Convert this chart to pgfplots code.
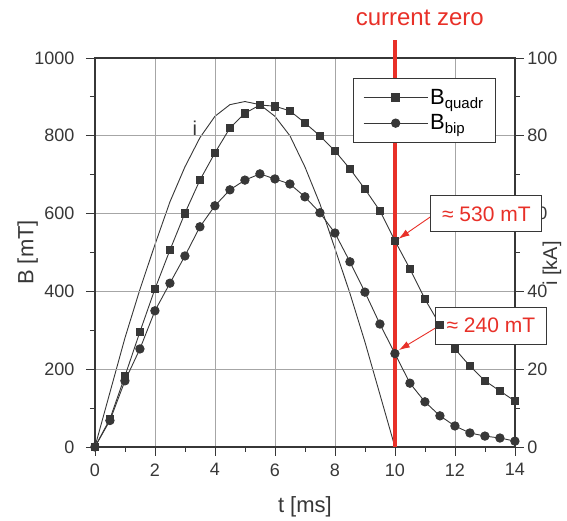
\documentclass[border=0pt]{standalone}
\usepackage{fontspec}
\setmainfont{Liberation Sans}
\usepackage{pgfplots}
\pgfplotsset{compat=1.18}
\usetikzlibrary{arrows.meta}
\definecolor{cred}{RGB}{232,48,40}
\definecolor{dk}{RGB}{55,55,55}

\begin{document}
\begin{tikzpicture}
\pgfplotsset{
  base/.style={
    scale only axis, width=420pt, height=389pt,
    xmin=0, xmax=14,
    tick align=outside,
    major tick length=9pt, minor tick length=5pt,
    every tick/.style={dk, line width=0.8pt},
    /pgf/number format/assume math mode=true,
    /pgf/number format/1000 sep={},
    tick label style={font=\fontsize{18}{18}\selectfont, text=dk},
    axis line style={dk, line width=1.2pt},
  }
}
% current axis (right)
\begin{axis}[base,
  axis x line=none, axis y line*=right,
  ymin=0, ymax=100, ytick={0,20,...,100}, minor ytick={10,30,...,90},
  ylabel={i [kA]},
  every axis y label/.style={at={(rel axis cs:1.088,0.472)}, rotate=90,
    anchor=center, font=\fontsize{20}{20}\selectfont, text=dk},
]
\addplot[dk, line width=0.9pt] coordinates {
  (0,0) (0.5,14) (1,28) (1.5,40.5) (2,52) (2.5,63) (3,72) (3.5,79.5)
  (4,85) (4.5,88) (5,88.8) (5.5,88) (6,85) (6.5,80) (7,72) (7.5,62.5)
  (8,51) (8.5,39.5) (9,27) (9.5,13.5) (10,0)};
\end{axis}
% flux density axis (left)
\begin{axis}[base, clip=false,
  ymin=0, ymax=1000, ytick={0,200,...,1000}, minor ytick={100,300,...,900},
  xtick={0,2,...,14}, minor xtick={1,3,...,13},
  xtick pos=bottom, ytick pos=left,
  x tick label style={yshift=-4pt},
  y tick label style={xshift=-8pt},
  grid=major, grid style={gray!70, line width=0.6pt},
  xlabel={t [ms]}, ylabel={B [mT]},
  every axis x label/.style={at={(rel axis cs:0.5,-0.154)}, anchor=center,
    font=\fontsize{22}{22}\selectfont, text=dk},
  every axis y label/.style={at={(rel axis cs:-0.16,0.5)}, rotate=90,
    anchor=center, font=\fontsize{22}{22}\selectfont, text=dk},
  legend style={at={(rel axis cs:0.614,0.949)}, anchor=north west,
    draw=dk, line width=0.8pt, fill=white,
    font=\fontsize{22}{22}\selectfont, row sep=5pt,
    inner xsep=10pt, inner ysep=9pt},
  legend cell align=left,
  legend image code/.code={\draw[mark repeat=2,mark phase=2]
    plot coordinates {(0pt,0pt)(32pt,0pt)(64pt,0pt)};},
]
\path (rel axis cs:-0.226,-0.190) rectangle (rel axis cs:1.124,1.149);
\draw[cred, line width=3.5pt] (axis cs:10,0) -- (axis cs:10,1045);

\addplot[dk, line width=0.9pt, mark=square*, mark size=3.8pt,
  mark options={fill=dk, draw=dk, solid}] coordinates {
  (0,0) (0.5,72) (1,182) (1.5,296) (2,406) (2.5,506) (3,601) (3.5,686)
  (4,756) (4.5,820) (5,858) (5.5,879) (6,876) (6.5,864) (7,833) (7.5,800)
  (8,761) (8.5,715) (9,663) (9.5,607) (10,530) (10.5,458) (11,380) (11.5,314)
  (12,252) (12.5,208) (13,170) (13.5,144) (14,118)};
\addlegendentry{B\textsubscript{\fontsize{15}{15}\selectfont quadr}}
\addplot[dk, line width=0.9pt, mark=*, mark size=4.2pt,
  mark options={fill=dk, draw=dk, solid}] coordinates {
  (0,0) (0.5,68) (1,170) (1.5,252) (2,350) (2.5,421) (3,491) (3.5,566)
  (4,620) (4.5,661) (5,686) (5.5,702) (6,689) (6.5,676) (7,643) (7.5,602)
  (8,550) (8.5,476) (9,398) (9.5,316) (10,240) (10.5,164) (11,116) (11.5,80)
  (12,54) (12.5,36) (13,28) (13.5,23) (14,15)};
\addlegendentry{B\textsubscript{\fontsize{15}{15}\selectfont bip}}

\node[cred, font=\fontsize{24}{24}\selectfont] at (axis cs:10.83,1103) {current zero};
\node[dk, font=\fontsize{20}{20}\selectfont] at (axis cs:3.33,820) {i};
\draw[cred, line width=0.9pt, -{Latex[length=11pt,width=7pt]}]
  (axis cs:11.23,594) -- (axis cs:10.12,535);
\draw[cred, line width=0.9pt, -{Latex[length=11pt,width=7pt]}]
  (axis cs:11.4,308) -- (axis cs:10.13,249);
\node[draw=dk, fill=white, line width=1pt, text=cred, font=\fontsize{21}{21}\selectfont,
  minimum width=111pt, minimum height=36pt] at (axis cs:13.05,599) {≈ 530 mT};
\node[draw=dk, fill=white, line width=1pt, text=cred, font=\fontsize{21}{21}\selectfont,
  minimum width=111pt, minimum height=37pt] at (axis cs:13.2,312) {≈ 240 mT};
\end{axis}
\end{tikzpicture}
\end{document}
